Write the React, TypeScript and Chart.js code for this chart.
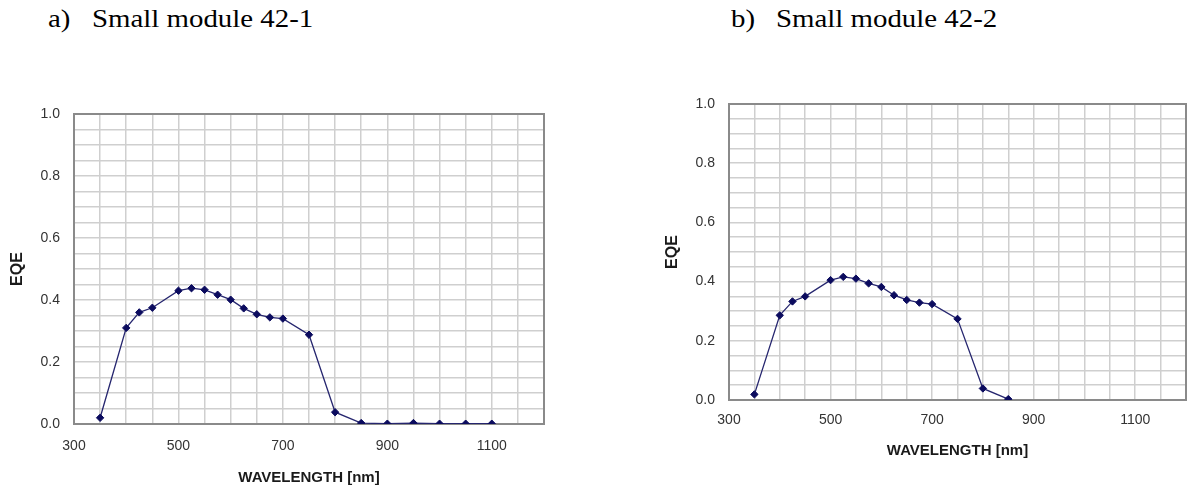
import React, { useEffect, useRef } from "react";
import { Chart, registerables } from "chart.js";

Chart.register(...registerables);

// ---- data ----
const wavelengthsA = [350, 400, 425, 450, 500, 525, 550, 575, 600, 625, 650, 675, 700, 750, 800, 850, 900, 950, 1000, 1050, 1100];
const eqeA = [0.02, 0.31, 0.36, 0.375, 0.43, 0.438, 0.433, 0.417, 0.401, 0.373, 0.354, 0.344, 0.34, 0.288, 0.038, 0.003, 0.001, 0.003, 0.001, 0.001, 0.001];
const wavelengthsB = [350, 400, 425, 450, 500, 525, 550, 575, 600, 625, 650, 675, 700, 750, 800, 850];
const eqeB = [0.019, 0.286, 0.333, 0.35, 0.405, 0.416, 0.41, 0.394, 0.382, 0.354, 0.338, 0.329, 0.324, 0.274, 0.039, 0.003];
const xTickLabels = [300, 500, 700, 900, 1100];
const yTickLabels = [0, 0.2, 0.4, 0.6, 0.8, 1.0];
const panelTitles = ["a)", "b)"];
const panelNames = ["Small module 42-1", "Small module 42-2"];
const xAxisTitle = "WAVELENGTH [nm]";
const yAxisTitle = "EQE";

const SANS = '"Liberation Sans", Arial, sans-serif';

const framePlugin = {
  id: "frame",
  beforeDatasetsDraw(chart: any) {
    const { ctx, chartArea } = chart;
    const { left, top, right, bottom } = chartArea;
    ctx.save();
    ctx.strokeStyle = "#8a8a8a";
    ctx.lineWidth = 2;
    ctx.strokeRect(left, top, right - left, bottom - top);
    ctx.restore();
  },
};

type Layout = {
  left: number;
  top: number;
  width: number;
  height: number;
  padTop: number;
  padRight: number;
  yAxisW: number;
  xAxisH: number;
  xTickPad: number;
};

function EqeChart({ xs, ys, layout }: { xs: number[]; ys: number[]; layout: Layout }) {
  const ref = useRef<HTMLCanvasElement | null>(null);
  useEffect(() => {
    if (!ref.current) return;
    const points = xs.map((x, i) => ({ x, y: ys[i] }));
    const gridColor = "#cfcfcf";
    const chart = new Chart(ref.current, {
      type: "line",
      data: {
        datasets: [
          {
            data: points,
            borderColor: "#26266f",
            borderWidth: 1.3,
            backgroundColor: "#0b0b5e",
            pointBackgroundColor: "#0b0b5e",
            pointBorderColor: "#0b0b5e",
            pointStyle: "rectRot",
            pointRadius: 3.7,
            pointBorderWidth: 1,
            tension: 0,
            fill: false,
          },
        ],
      },
      options: {
        responsive: false,
        animation: false,
        layout: { padding: { top: layout.padTop, right: layout.padRight, left: 0, bottom: 0 } },
        plugins: { legend: { display: false }, tooltip: { enabled: false } },
        scales: {
          x: {
            type: "linear",
            min: 300,
            max: 1200,
            border: { display: false },
            grid: { color: gridColor, lineWidth: 1.5, drawTicks: false },
            ticks: {
              stepSize: 50,
              autoSkip: false,
              maxRotation: 0,
              padding: layout.xTickPad,
              color: "#333",
              font: { family: SANS, size: 14 },
              callback: (v: any) => (xTickLabels.includes(Number(v)) ? String(v) : ""),
            },
            title: {
              display: true,
              text: xAxisTitle,
              color: "#1a1a1a",
              font: { family: SANS, size: 15, weight: "bold" },
              padding: { top: 0, bottom: 6 },
            },
            afterFit: (s: any) => {
              s.height = layout.xAxisH;
            },
          },
          y: {
            type: "linear",
            min: 0,
            max: 1,
            border: { display: false },
            grid: { color: gridColor, lineWidth: 1.5, drawTicks: false },
            ticks: {
              stepSize: 0.05,
              autoSkip: false,
              padding: 14,
              color: "#333",
              font: { family: SANS, size: 14 },
              callback: (v: any) => {
                const r = Math.round(Number(v) * 100);
                const hit = yTickLabels.find((t) => Math.round(t * 100) === r);
                return hit !== undefined ? hit.toFixed(1) : "";
              },
            },
            title: {
              display: true,
              text: yAxisTitle,
              color: "#1a1a1a",
              font: { family: SANS, size: 16, weight: "bold" },
              padding: { top: 8, bottom: 0 },
            },
            afterFit: (s: any) => {
              s.width = layout.yAxisW;
            },
          },
        },
      } as any,
      plugins: [framePlugin],
    });
    return () => chart.destroy();
  }, [xs, ys, layout]);

  return (
    <canvas
      ref={ref}
      width={layout.width}
      height={layout.height}
      style={{
        position: "absolute",
        left: layout.left,
        top: layout.top,
        width: layout.width,
        height: layout.height,
      }}
    />
  );
}

const layoutA: Layout = { left: 0, top: 60, width: 580, height: 54 + 310 + 69, padTop: 54, padRight: 36, yAxisW: 74, xAxisH: 69, xTickPad: 14 };
const layoutB: Layout = { left: 655, top: 50, width: 543, height: 54 + 296 + 66, padTop: 54, padRight: 2, yAxisW: 74, xAxisH: 66, xTickPad: 12 };

export default function App() {
  const titleStyle: React.CSSProperties = {
    position: "absolute",
    top: 4,
    fontFamily: '"Liberation Serif", "Times New Roman", serif',
    fontSize: 26,
    color: "#000",
    whiteSpace: "pre",
    lineHeight: "30px",
    transform: "scaleX(1.11)",
    transformOrigin: "left center",
  };
  return (
    <div style={{ position: "fixed", left: 0, top: 0, width: 1198, height: 493, background: "#fff", overflow: "hidden" }}>
      <div style={{ ...titleStyle, left: 48 }}>{panelTitles[0]}</div>
      <div style={{ ...titleStyle, left: 92 }}>{panelNames[0]}</div>
      <div style={{ ...titleStyle, left: 731 }}>{panelTitles[1]}</div>
      <div style={{ ...titleStyle, left: 776 }}>{panelNames[1]}</div>
      <EqeChart xs={wavelengthsA} ys={eqeA} layout={layoutA} />
      <EqeChart xs={wavelengthsB} ys={eqeB} layout={layoutB} />
    </div>
  );
}
